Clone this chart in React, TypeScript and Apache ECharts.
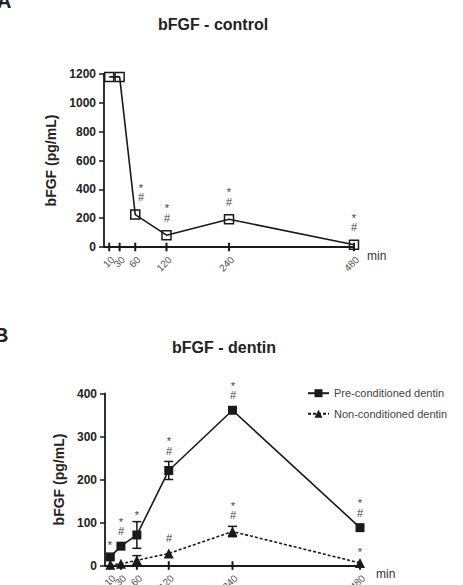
import React, { useEffect, useRef } from "react";
import * as echarts from "echarts";

// Sampling times (min)
const timesMin = [10, 30, 60, 120, 240, 480];

// bFGF release, control (pg/mL)
const controlValues = [1180, 1180, 225, 82, 192, 16];
const controlMarks = ["", "", "*#", "*#", "*#", "*#"];

// bFGF release from dentin (pg/mL), mean and error
const preValues = [20, 45, 71, 221, 361, 88];
const preErrors = [0, 0, 31, 21, 0, 0];
const preMarks = ["*", "*#", "*", "*#", "*#", "*#"];

const nonValues = [2, 4, 12, 28, 79, 6];
const nonErrors = [0, 0, 11, 0, 12, 0];
const nonMarks = ["", "", "", "#", "*#", "*"];

const INK = "#1a1a1a";
const FONT = "Liberation Sans, Arial, Helvetica, sans-serif";

function errorBars(xAxisIndex: number, yAxisIndex: number, values: number[], errors: number[]) {
  const data = timesMin
    .map((t, i) => [t, values[i] - errors[i], values[i] + errors[i]])
    .filter((_, i) => errors[i] > 0);
  return {
    type: "custom",
    xAxisIndex,
    yAxisIndex,
    silent: true,
    z: 1,
    data,
    encode: { x: 0, y: [1, 2] },
    renderItem: (_params: any, api: any) => {
      const x = api.value(0);
      const lo = api.coord([x, api.value(1)]);
      const hi = api.coord([x, api.value(2)]);
      const hw = 4.5;
      const style = { stroke: INK, lineWidth: 1.5 };
      return {
        type: "group",
        children: [
          { type: "line", shape: { x1: lo[0], y1: lo[1], x2: hi[0], y2: hi[1] }, style },
          { type: "line", shape: { x1: hi[0] - hw, y1: hi[1], x2: hi[0] + hw, y2: hi[1] }, style },
          { type: "line", shape: { x1: lo[0] - hw, y1: lo[1], x2: lo[0] + hw, y2: lo[1] }, style },
        ],
      };
    },
  };
}

// Time axis ticks that cross the axis line, with slanted labels beneath
function timeTicks(xAxisIndex: number, yAxisIndex: number) {
  return {
    type: "custom",
    xAxisIndex,
    yAxisIndex,
    silent: true,
    clip: false,
    z: 4,
    data: timesMin.map((t) => [t, 0]),
    encode: { x: 0, y: 1 },
    renderItem: (_params: any, api: any) => {
      const t = api.value(0);
      const p = api.coord([t, 0]);
      return {
        type: "group",
        children: [
          {
            type: "line",
            shape: { x1: p[0], y1: p[1] - 4.3, x2: p[0], y2: p[1] + 4.3 },
            style: { stroke: INK, lineWidth: 2 },
          },
          {
            type: "text",
            x: p[0] + 3.5,
            y: p[1] + 11,
            rotation: Math.PI / 4,
            style: {
              text: String(t),
              fill: "#555",
              fontSize: 10,
              fontFamily: FONT,
              align: "right",
              verticalAlign: "middle",
            },
          },
        ],
      };
    },
  };
}

// Significance marks (* and #) stacked above each point or its error bar
function significance(
  xAxisIndex: number,
  yAxisIndex: number,
  values: number[],
  errors: number[],
  marks: string[],
  hashGap: number,
  starGap: number,
  nudge: Record<number, number> = {}
) {
  const data = timesMin
    .map((t, i) => [t, values[i] + errors[i], errors[i] > 0 ? 1 : 0, i])
    .filter((_, i) => marks[i] !== "");
  return {
    type: "custom",
    xAxisIndex,
    yAxisIndex,
    silent: true,
    z: 5,
    data,
    encode: { x: 0, y: 1 },
    renderItem: (_params: any, api: any) => {
      const i = api.value(3);
      const text = marks[i];
      const p = api.coord([api.value(0), api.value(1)]);
      const top = api.value(2) ? p[1] : p[1] - 4.5;
      const x = Math.round(p[0] + (nudge[i] || 0));
      const txt = (s: string, y: number) => ({
        type: "text",
        x,
        y: Math.round(y),
        style: {
          text: s,
          fill: "#444",
          fontSize: 11,
          lineHeight: 11,
          fontFamily: FONT,
          align: "center",
          verticalAlign: "middle",
        },
      });
      const children: any[] = [];
      if (text.includes("#")) {
        const hy = top - hashGap;
        children.push(txt("#", hy));
        if (text.includes("*")) children.push(txt("*", hy - 12 + 2.5));
      } else {
        children.push(txt("*", top - starGap + 2.5));
      }
      return { type: "group", children };
    },
  };
}

function timeAxis(gridIndex: number) {
  return {
    type: "value",
    gridIndex,
    position: "bottom",
    min: 0,
    max: 480,
    splitLine: { show: false },
    axisLine: { show: true, onZero: false, lineStyle: { color: INK, width: 1.8 } },
    axisTick: { show: false },
    axisLabel: { show: false },
  };
}

function concAxis(gridIndex: number, max: number, interval: number) {
  return {
    type: "value",
    gridIndex,
    min: 0,
    max,
    interval,
    name: "bFGF (pg/mL)",
    nameLocation: "middle",
    nameGap: gridIndex === 0 ? 41 : 36,
    nameTextStyle: { fontSize: 14, fontWeight: "bold", color: "#222", fontFamily: FONT },
    splitLine: { show: false },
    axisLine: { show: true, lineStyle: { color: INK, width: 1.8 } },
    axisTick: { show: true, length: 5, lineStyle: { color: INK, width: 1.5 } },
    axisLabel: {
      fontSize: 12,
      fontWeight: "bold",
      color: "#222",
      fontFamily: FONT,
      margin: 8,
      formatter: (v: number) => String(v),
    },
  };
}

export default function App() {
  const ref = useRef<HTMLDivElement>(null);

  useEffect(() => {
    if (!ref.current) return;
    const chart = echarts.init(ref.current, undefined, { renderer: "svg" });

    const textEl = (text: string, x: number, y: number, size: number, bold: boolean, align = "center", color = "#222") => ({
      type: "text",
      x,
      y,
      style: {
        text,
        fill: color,
        fontSize: size,
        fontWeight: bold ? "bold" : "normal",
        fontFamily: FONT,
        align,
        verticalAlign: "middle",
      },
    });

    chart.setOption({
      animation: false,
      backgroundColor: "#ffffff",
      grid: [
        { left: 104, top: 74, width: 250, height: 173 },
        { left: 105, top: 393.5, width: 255, height: 172 },
      ],
      xAxis: [timeAxis(0), timeAxis(1)],
      yAxis: [concAxis(0, 1200, 200), concAxis(1, 400, 100)],
      legend: {
        orient: "vertical",
        left: 302,
        top: 382.7,
        itemWidth: 21,
        itemHeight: 10,
        itemGap: 9.6,
        data: ["Pre-conditioned dentin", "Non-conditioned dentin"],
        textStyle: { fontSize: 11, color: "#444", fontFamily: FONT, lineHeight: 10 },
      },
      graphic: [
        textEl("A", -3, 1, 20, true, "left"),
        textEl("B", -6, 335, 20, true, "left"),
        textEl("bFGF - control", 213, 24, 16, true),
        textEl("bFGF - dentin", 224, 347, 16, true),
        textEl("min", 367, 256, 12, false, "left", "#333"),
        textEl("min", 376, 574, 12, false, "left", "#333"),
      ],
      series: [
        timeTicks(0, 0),
        timeTicks(1, 1),
        {
          name: "control",
          type: "line",
          xAxisIndex: 0,
          yAxisIndex: 0,
          data: timesMin.map((t, i) => [t, controlValues[i]]),
          symbol: "rect",
          symbolSize: 9,
          lineStyle: { color: INK, width: 1.6 },
          itemStyle: { color: "rgba(255,255,255,0)", borderColor: INK, borderWidth: 1.5 },
          z: 3,
        },
        significance(0, 0, controlValues, controlValues.map(() => 0), controlMarks, 13, 9.5, { 2: 6 }),
        errorBars(1, 1, preValues, preErrors),
        errorBars(1, 1, nonValues, nonErrors),
        {
          name: "Pre-conditioned dentin",
          type: "line",
          xAxisIndex: 1,
          yAxisIndex: 1,
          data: timesMin.map((t, i) => [t, preValues[i]]),
          symbol: "rect",
          symbolSize: 9,
          lineStyle: { color: INK, width: 1.6 },
          itemStyle: { color: INK },
          z: 3,
        },
        {
          name: "Non-conditioned dentin",
          type: "line",
          xAxisIndex: 1,
          yAxisIndex: 1,
          data: timesMin.map((t, i) => [t, nonValues[i]]),
          symbol: "triangle",
          symbolSize: 10,
          lineStyle: { color: INK, width: 1.6, type: [3, 2] },
          itemStyle: { color: INK },
          z: 3,
        },
        significance(1, 1, preValues, preErrors, preMarks, 10.5, 9.5),
        significance(1, 1, nonValues, nonErrors, nonMarks, 11, 8.5),
      ],
    });

    return () => chart.dispose();
  }, []);

  return (
    <div
      ref={ref}
      style={{ position: "fixed", left: 0, top: 0, width: 463, height: 585, background: "#fff" }}
    />
  );
}
